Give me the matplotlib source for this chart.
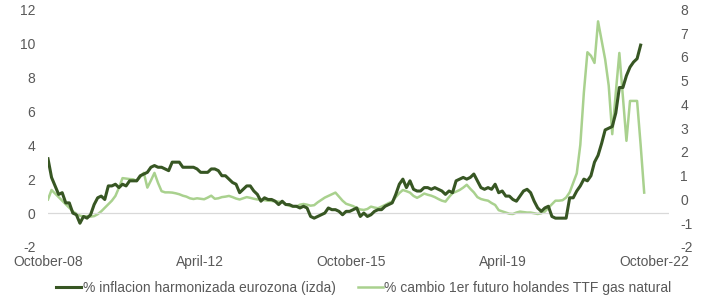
import matplotlib
matplotlib.use('Agg')
import matplotlib.pyplot as plt
import numpy as np

# inflacion armonizada eurozona, mensual, octubre 2008 - septiembre 2022 (eje izquierdo)
inflacion = [
    3.2, 2.1, 1.6,
    1.1, 1.2, 0.6, 0.6, 0.0, -0.1, -0.6, -0.2, -0.3, -0.1, 0.5, 0.9,
    1.0, 0.8, 1.6, 1.6, 1.7, 1.5, 1.7, 1.6, 1.9, 1.9, 1.9, 2.2,
    2.3, 2.4, 2.7, 2.8, 2.7, 2.7, 2.6, 2.5, 3.0, 3.0, 3.0, 2.7,
    2.7, 2.7, 2.7, 2.6, 2.4, 2.4, 2.4, 2.6, 2.6, 2.5, 2.2, 2.2,
    2.0, 1.8, 1.7, 1.2, 1.4, 1.6, 1.6, 1.3, 1.1, 0.7, 0.9, 0.8,
    0.8, 0.7, 0.5, 0.7, 0.5, 0.5, 0.4, 0.4, 0.3, 0.4, 0.3, -0.2,
    -0.3, -0.2, -0.1, 0.0, 0.3, 0.2, 0.2, 0.1, -0.1, 0.1, 0.1, 0.2,
    0.3, -0.2, 0.0, -0.2, -0.1, 0.1, 0.2, 0.2, 0.4, 0.5, 0.6, 1.1,
    1.7, 2.0, 1.5, 1.9, 1.4, 1.3, 1.3, 1.5, 1.5, 1.4, 1.5, 1.4,
    1.3, 1.1, 1.3, 1.2, 1.9, 2.0, 2.1, 2.0, 2.1, 2.3, 1.9, 1.5,
    1.4, 1.5, 1.4, 1.7, 1.2, 1.3, 1.0, 1.0, 0.8, 0.7, 1.0, 1.3,
    1.4, 1.2, 0.7, 0.3, 0.1, 0.3, 0.4, -0.2, -0.3, -0.3, -0.3, -0.3,
    0.9, 0.9, 1.3, 1.6, 2.0, 1.9, 2.2, 3.0, 3.4, 4.1, 4.9, 5.0,
    5.1, 5.9, 7.4, 7.4, 8.1, 8.6, 8.9, 9.1, 9.9,
]

# cambio 1er futuro holandes TTF, mensual, octubre 2008 - octubre 2022 (eje derecho)
gas_ttf = [
    0.0, 0.4, 0.25, 0.1, -0.05, -0.2, -0.35, -0.5, -0.6, -0.68, -0.72, -0.7,
    -0.72, -0.7, -0.62, -0.5, -0.35, -0.2, -0.05, 0.15, 0.5, 0.9, 0.88, 0.86,
    0.85, 0.78, 0.95, 1.12, 0.5, 0.8, 1.12, 0.7, 0.35, 0.3, 0.3, 0.29,
    0.26, 0.22, 0.16, 0.12, 0.05, 0.02, 0.05, 0.03, 0.01, 0.08, 0.16, 0.03,
    0.05, 0.1, 0.12, 0.15, 0.1, 0.04, 0.0, 0.05, 0.1, 0.07, 0.03, 0.0,
    0.0, -0.03, -0.05, -0.06, -0.08, -0.09, -0.12, -0.2, -0.27, -0.29, -0.3, -0.22,
    -0.19, -0.22, -0.26, -0.24, -0.12, -0.02, 0.08, 0.15, 0.22, 0.29, 0.12, -0.05,
    -0.18, -0.23, -0.28, -0.36, -0.42, -0.44, -0.4, -0.3, -0.34, -0.37, -0.3, -0.23,
    -0.15, -0.09, 0.1, 0.27, 0.4, 0.35, 0.29, 0.15, 0.07, 0.15, 0.25, 0.2,
    0.16, 0.1, 0.02, -0.05, -0.09, 0.1, 0.27, 0.33, 0.4, 0.5, 0.62, 0.45,
    0.3, 0.1, 0.02, -0.02, -0.05, -0.15, -0.23, -0.45, -0.5, -0.55, -0.6, -0.61,
    -0.55, -0.51, -0.53, -0.55, -0.55, -0.58, -0.61, -0.58, -0.51, -0.35, -0.2, -0.05,
    -0.05, -0.03, 0.08, 0.3, 0.7, 1.1, 2.3, 4.5, 6.2, 6.05, 5.75, 7.5,
    6.7, 5.9, 4.8, 2.75, 4.5, 6.17, 4.3, 2.47, 4.15, 4.15, 4.15, 2.3, 0.29,
]

tick_labels = ['October-08', 'April-12', 'October-15', 'April-19', 'October-22']
label_inflacion = '% inflacion harmonizada eurozona (izda)'
label_gas = '% cambio 1er futuro holandes TTF gas natural'

plt.rcParams['font.family'] = ['Liberation Sans', 'DejaVu Sans']
plt.rcParams['axes.unicode_minus'] = False
gris = '#595959'
verde_osc = '#375623'
verde_cla = '#a9d18e'

fig = plt.figure(figsize=(7.25, 3.0), dpi=100)
ax = fig.add_axes([0.0662, 0.1767, 0.8566, 0.7917])
ax2 = ax.twinx()

x1 = np.arange(len(inflacion))
x2 = np.arange(len(gas_ttf))

ax.axhline(0, color='#d9d9d9', lw=0.9, zorder=1)
l1, = ax.plot(x1, inflacion, color=verde_osc, lw=2.2, zorder=3)
l2, = ax2.plot(x2, gas_ttf, color=verde_cla, lw=1.8)

# la serie de inflacion queda por encima
ax.set_zorder(ax2.get_zorder() + 1)
ax.patch.set_visible(False)

ax.set_xlim(0, 175)
ax.set_ylim(-2, 12)
ax.set_yticks(range(-2, 13, 2))
ax2.set_ylim(-2, 8)
ax2.set_yticks(range(-2, 9))
ax.set_xticks([i * 42.7 for i in range(len(tick_labels))])
ax.set_xticklabels(tick_labels)

for a in (ax, ax2):
    for s in a.spines.values():
        s.set_visible(False)
    a.tick_params(length=0, labelsize=10, labelcolor=gris)
ax.tick_params(axis='y', pad=9)
ax2.tick_params(axis='y', pad=8)
ax.tick_params(axis='x', pad=6)

fig.legend([l1, l2], [label_inflacion, label_gas], loc='center',
           bbox_to_anchor=(0.502, 0.04), ncol=2, frameon=False,
           fontsize=10, labelcolor=gris, handlelength=1.8,
           handletextpad=0.1, columnspacing=1.6)

fig.savefig('out.png', dpi=100)
